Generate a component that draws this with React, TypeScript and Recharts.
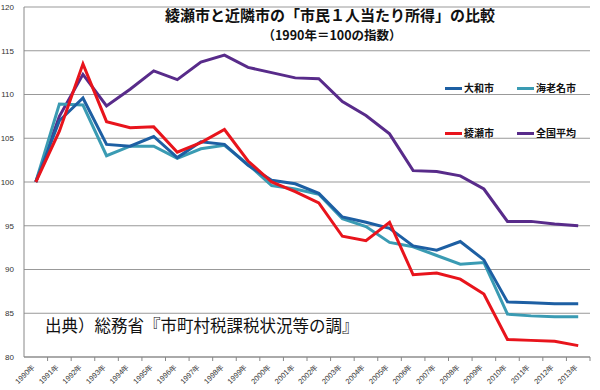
import React from 'react';
import { LineChart, Line, XAxis, YAxis, CartesianGrid } from 'recharts';

// 年（カテゴリ）
const years = [
  '1990年', '1991年', '1992年', '1993年', '1994年', '1995年', '1996年', '1997年',
  '1998年', '1999年', '2000年', '2001年', '2002年', '2003年', '2004年', '2005年',
  '2006年', '2007年', '2008年', '2009年', '2010年', '2011年', '2012年', '2013年',
];

// 各系列（1990年=100の指数）
const yamato = [100, 107.0, 109.6, 104.3, 104.1, 105.2, 102.8, 104.6, 104.3, 101.9, 100.2, 99.8,
  98.7, 96.0, 95.4, 94.7, 92.7, 92.2, 93.2, 91.1, 86.3, 86.2, 86.1, 86.1];
const ebina = [100, 108.9, 108.8, 103.0, 104.1, 104.1, 102.7, 103.8, 104.2, 102.0, 99.6, 99.2,
  98.6, 95.8, 94.9, 93.1, 92.6, 91.6, 90.6, 90.8, 84.9, 84.7, 84.6, 84.6];
const ayase = [100, 105.8, 113.5, 106.9, 106.2, 106.3, 103.4, 104.5, 106.0, 102.4, 100.0, 98.9,
  97.6, 93.8, 93.3, 95.4, 89.4, 89.6, 88.9, 87.2, 82.0, 81.9, 81.8, 81.3];
const national = [100, 107.5, 112.3, 108.7, 110.6, 112.7, 111.7, 113.7, 114.5, 113.1, 112.5, 111.9,
  111.8, 109.2, 107.6, 105.5, 101.3, 101.2, 100.7, 99.2, 95.5, 95.5, 95.2, 95.0];

const yTicks = [80, 85, 90, 95, 100, 105, 110, 115, 120];

const data = years.map((y, i) => ({
  year: y,
  yamato: yamato[i],
  ebina: ebina[i],
  ayase: ayase[i],
  national: national[i],
}));

const FONT = '"Noto Sans CJK JP", "Noto Sans", sans-serif';

const XTick = (props: any) => {
  const { x, y, payload } = props;
  return (
    <g>
      <line x1={x + 11.8} y1={y - 8} x2={x + 11.8} y2={y - 4} stroke="#888" />
      <text
        x={x}
        y={y + 2}
        textAnchor="end"
        fontSize={7.5}
        fill="#333"
        fontFamily="Arial, Liberation Sans, sans-serif"
        transform={`rotate(-45 ${x} ${y + 2})`}
      >
        {payload.value}
      </text>
    </g>
  );
};

const legendItems = [
  { label: '大和市', color: '#1d5fa3', left: 445, top: 81 },
  { label: '海老名市', color: '#3a9bb3', left: 517, top: 81 },
  { label: '綾瀬市', color: '#e8141c', left: 445, top: 126 },
  { label: '全国平均', color: '#582b8a', left: 517, top: 126 },
];

const App: React.FC = () => {
  return (
    <div style={{ position: 'absolute', left: 0, top: 0, width: 600, height: 390, background: '#fff', fontFamily: FONT }}>
      <LineChart width={600} height={390} data={data} margin={{ top: 7, right: 10, bottom: 0, left: 0 }}>
        <CartesianGrid vertical={false} stroke="#999" strokeWidth={1} />
        <XAxis
          dataKey="year"
          scale="band"
          interval={0}
          height={33}
          tick={<XTick />}
          tickLine={false}
          stroke="#888"
        />
        <YAxis
          domain={[80, 120]}
          ticks={yTicks}
          width={24}
          tickLine={false}
          stroke="#888"
          tick={{ fontSize: 8, fill: '#333', fontFamily: 'Arial, Liberation Sans, sans-serif' }}
          tickMargin={4}
        />
        <Line type="linear" dataKey="national" stroke="#582b8a" strokeWidth={3} dot={false} isAnimationActive={false} />
        <Line type="linear" dataKey="ebina" stroke="#3a9bb3" strokeWidth={3} dot={false} isAnimationActive={false} />
        <Line type="linear" dataKey="yamato" stroke="#1d5fa3" strokeWidth={3} dot={false} isAnimationActive={false} />
        <Line type="linear" dataKey="ayase" stroke="#e8141c" strokeWidth={3} dot={false} isAnimationActive={false} />
      </LineChart>

      <div style={{ position: 'absolute', left: 0, width: 660, top: 5, textAlign: 'center', fontSize: 15, fontWeight: 'bold', color: '#111', lineHeight: '20px' }}>
        綾瀬市と近隣市の「市民１人当たり所得」の比較
      </div>
      <div style={{ position: 'absolute', left: 0, width: 664, top: 26, textAlign: 'center', fontSize: 12.5, fontWeight: 'bold', color: '#111', lineHeight: '18px' }}>
        （1990年＝100の指数）
      </div>

      {legendItems.map((it) => (
        <div key={it.label} style={{ position: 'absolute', left: it.left, top: it.top, display: 'flex', alignItems: 'center', fontSize: 10, fontWeight: 'bold', color: '#111', lineHeight: '14px' }}>
          <span style={{ display: 'inline-block', width: 17, height: 3, background: it.color, marginRight: 2 }} />
          {it.label}
        </div>
      ))}

      <div style={{ position: 'absolute', left: 45, top: 313, fontSize: 16.5, color: '#111', lineHeight: '24px', whiteSpace: 'nowrap' }}>
        出典）総務省『市町村税課税状況等の調』
      </div>
    </div>
  );
};

export default App;
